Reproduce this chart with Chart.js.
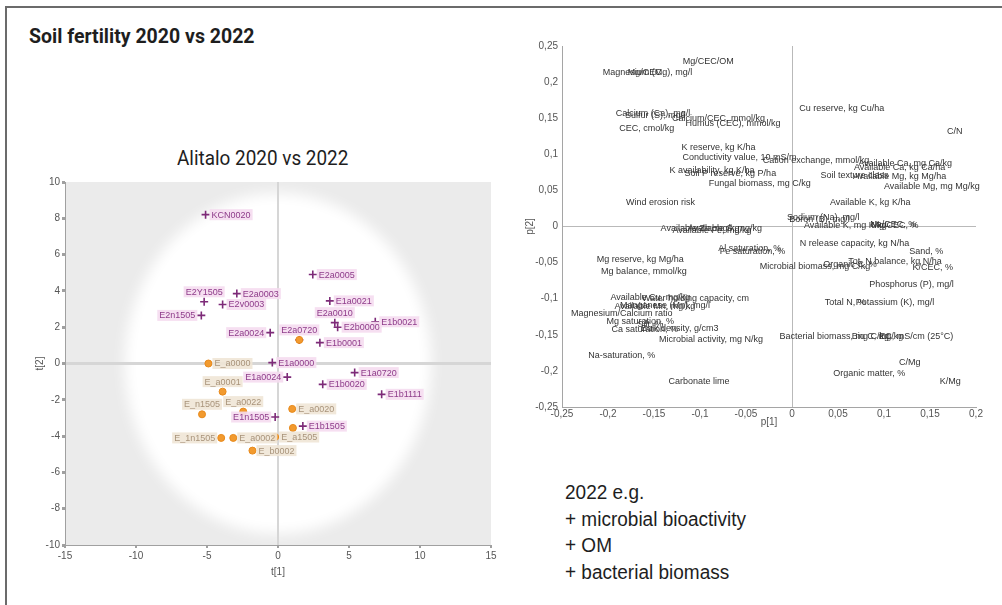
<!DOCTYPE html>
<html>
<head>
<meta charset="utf-8">
<script src="https://cdn.jsdelivr.net/npm/chart.js@4.4.1/dist/chart.umd.min.js"></script>
<style>
  html, body { margin: 0; padding: 0; background: #fff; }
  body { width: 1002px; height: 605px; position: relative; overflow: hidden;
         font-family: "Liberation Sans", Arial, sans-serif; }
  #frame { position: absolute; left: 5px; top: 6px; width: 1010px; height: 640px;
           border-left: 2px solid #6b6b6b; border-top: 2px solid #6b6b6b; }
  #mainTitle { position: absolute; left: 29px; top: 26px; font: bold 20px Roboto, sans-serif;
               line-height: 20px; color: #1e1e1e; white-space: nowrap;
               transform: scaleX(0.975); transform-origin: left top; }
  #scoreTitle { position: absolute; left: 177px; top: 148px; font: 21px Roboto, sans-serif;
                line-height: 21px; color: #1e1e1e; white-space: nowrap;
                transform: scaleX(0.9); transform-origin: left top; }
  #notes { position: absolute; left: 565px; top: 479px; font: 20px "Liberation Sans", Arial, sans-serif;
           line-height: 26.5px; color: #1e1e1e; white-space: nowrap;
           transform: scaleX(0.95); transform-origin: left top; }
  #scoreBox { position: absolute; left: 0; top: 140px; width: 520px; height: 460px; }
  #loadBox { position: absolute; left: 500px; top: 20px; width: 495px; height: 420px; }
</style>
</head>
<body>
<div id="frame"></div>
<div id="mainTitle">Soil fertility 2020 vs 2022</div>
<div id="scoreTitle">Alitalo 2020 vs 2022</div>
<div id="notes">2022 e.g.<br>+ microbial bioactivity<br>+ OM<br>+ bacterial biomass</div>
<div id="scoreBox"><canvas id="scores" width="520" height="460"></canvas></div>
<div id="loadBox"><canvas id="loadings" width="495" height="420"></canvas></div>

<script>
// ---- Score plot: samples from 2022 (purple) ----
const names2022 = ['KCN0020', 'E2Y1505', 'E2a0003', 'E2v0003', 'E2n1505', 'E2a0024', 'E2a0720',
  'E1a0000', 'E2a0005', 'E1a0021', 'E2a0010', 'E2b0000', 'E1b0021', 'E1b0001', 'E1a0024',
  'E1a0720', 'E1b0020', 'E1b1111', 'E1n1505', 'E1b1505'];
const t1_2022 = [-5.1, -5.2, -2.9, -3.9, -5.4, -0.55, 1.5, -0.4, 2.45, 3.65, 4.0, 4.2, 6.85, 2.95, 0.65,
  5.4, 3.15, 7.3, -0.2, 1.75];
const t2_2022 = [8.2, 3.4, 3.85, 3.25, 2.65, 1.7, 1.3, 0.05, 4.9, 3.45, 2.25, 2.0, 2.3, 1.15, -0.75,
  -0.5, -1.15, -1.7, -2.95, -3.45];

// ---- Score plot: samples from 2020 (orange) ----
const names2020 = ['E_a0000', 'E_a0001', 'E_n1505', 'E_a0022', 'E_a0020', '', 'E_1n1505', 'E_a0002',
  'E_a1505', 'E_b0002', ''];
const t1_2020 = [-4.9, -3.9, -5.35, -2.45, 1.0, 1.05, -4.0, -3.15, -0.2, -1.8, 1.5];
const t2_2020 = [0.0, -1.55, -2.8, -2.65, -2.5, -3.55, -4.1, -4.1, -4.05, -4.8, 1.3];

// label side for each sample name: r = right, l = left, a = above
const side2022 = ['r', 'a', 'r', 'r', 'l', 'l', 'a', 'r', 'r', 'r', 'a', 'r', 'r', 'r', 'l', 'r', 'r', 'r', 'l', 'r'];
const side2020 = ['r', 'a', 'a', 'a', 'r', 'r', 'l', 'r', 'r', 'r', 'r'];

// Hotelling T2 ellipse half-axes in score units
const ellipseT1 = 10.8;
const ellipseT2 = 9.4;

// ---- Loading plot ----
const loadingNames = [
  'Mg/CEC/OM', 'Magnesium (Mg), mg/l', 'Mg/CEC', 'Calcium (Ca), mg/l', 'Sulfur (S), mg/l', 'CEC, cmol/kg',
  'Calcium/CEC, mmol/kg', 'Humus (CEC), mmol/kg', 'K reserve, kg K/ha', 'Conductivity value, 10 mS/m',
  'Cation exchange, mmol/kg', 'K availability, kg K/ha', 'Soil P reserve, kg P/ha', 'Fungal biomass, mg C/kg',
  'Wind erosion risk', 'Cu reserve, kg Cu/ha', 'C/N', 'Available Ca, mg Ca/kg', 'Available Ca, kg Ca/ha',
  'Soil texture class', 'Available Mg, kg Mg/ha', 'Available Mg, mg Mg/kg', 'Available K, kg K/ha',
  'Sodium (Na), mg/l', 'Boron (B), mg/l', 'Available K, mg K/kg', 'Mg/CEC, %', 'Na/CEC, %',
  'Available Zn, mg/kg', 'Available Fe, mg/kg', 'Available S, mg/kg', 'Fe saturation, %', 'Al saturation, %',
  'Mg reserve, kg Mg/ha', 'Mg balance, mmol/kg', 'Available Cu, mg/kg', 'Water holding capacity, cm',
  'Available Mn, mg/kg', 'Manganese (Mn), mg/l', 'Magnesium/Calcium ratio', 'Mg saturation, %', 'Silt, %',
  'Bulk density, g/cm3', 'Ca saturation, %', 'Microbial activity, mg N/kg', 'Na-saturation, %',
  'Carbonate lime', 'N release capacity, kg N/ha', 'Sand, %', 'Microbial biomass, mg C/kg', 'Organic C, %',
  'Tot. N balance, kg N/ha', 'K/CEC, %', 'Phosphorus (P), mg/l', 'Total N, %', 'Potassium (K), mg/l',
  'Bacterial biomass, mg C/kg', 'Bio C, mg/kg', 'EC, mS/cm (25°C)', 'C/Mg', 'Organic matter, %', 'K/Mg'];
const p1 = [
  -0.091, -0.157, -0.160, -0.151, -0.149, -0.158,
  -0.080, -0.064, -0.080, -0.057,
  0.026, -0.087, -0.067, -0.035,
  -0.143, 0.054, 0.177, 0.123, 0.117,
  0.068, 0.117, 0.152, 0.085,
  0.034, 0.030, 0.058, 0.112, 0.110,
  -0.100, -0.087, -0.073, -0.043, -0.046,
  -0.165, -0.161, -0.154, -0.105,
  -0.149, -0.138, -0.185, -0.165, -0.154,
  -0.122, -0.160, -0.088, -0.185,
  -0.101, 0.068, 0.146, 0.025, 0.063,
  0.112, 0.153, 0.130, 0.058, 0.112,
  0.046, 0.093, 0.135, 0.128, 0.084, 0.172];
const p2 = [
  0.228, 0.213, 0.213, 0.157, 0.154, 0.136,
  0.149, 0.142, 0.110, 0.095,
  0.092, 0.078, 0.074, 0.059,
  0.033, 0.164, 0.131, 0.087, 0.082,
  0.070, 0.069, 0.055, 0.033,
  0.013, 0.010, 0.001, 0.002, 0.003,
  -0.003, -0.006, -0.003, -0.034, -0.031,
  -0.046, -0.062, -0.099, -0.100,
  -0.111, -0.109, -0.120, -0.132, -0.136,
  -0.141, -0.143, -0.157, -0.178,
  -0.215, -0.023, -0.035, -0.055, -0.053,
  -0.048, -0.057, -0.081, -0.105, -0.105,
  -0.153, -0.153, -0.153, -0.189, -0.203, -0.215];

const FONT = '"Liberation Sans", Arial, sans-serif';
Chart.defaults.font.family = FONT;
Chart.defaults.font.size = 10;
Chart.defaults.color = '#555';

const toPoints = (xs, ys) => xs.map((v, i) => ({ x: v, y: ys[i] }));

// grey plot field with the white confidence ellipse behind everything
const scoreBackdrop = {
  id: 'scoreBackdrop',
  beforeDraw(chart) {
    const { ctx, chartArea: a, scales: { x, y } } = chart;
    ctx.save();
    ctx.fillStyle = '#ebebeb';
    ctx.fillRect(a.left, a.top, a.width, a.height);
    ctx.beginPath();
    ctx.rect(a.left, a.top, a.width, a.height);
    ctx.clip();
    const cx = x.getPixelForValue(0), cy = y.getPixelForValue(0);
    const rx = x.getPixelForValue(ellipseT1) - cx;
    const ry = cy - y.getPixelForValue(ellipseT2);
    ctx.filter = 'blur(7px)';
    ctx.fillStyle = '#ffffff';
    ctx.beginPath();
    ctx.ellipse(cx, cy, rx, ry, 0, 0, Math.PI * 2);
    ctx.fill();
    ctx.restore();
  }
};

// boxed sample names beside each score point
const sampleLabels = {
  id: 'sampleLabels',
  afterDatasetsDraw(chart) {
    const ctx = chart.ctx;
    chart.data.datasets.forEach((ds, di) => {
      if (!ds.sampleNames) return;
      const meta = chart.getDatasetMeta(di);
      ctx.save();
      ctx.font = '9px ' + FONT;
      ctx.textBaseline = 'middle';
      meta.data.forEach((pt, i) => {
        const txt = ds.sampleNames[i];
        if (!txt) return;
        const w = ctx.measureText(txt).width;
        const s = ds.sampleSides[i];
        let x0, yc;
        if (s === 'r') { x0 = pt.x + 6; yc = pt.y; }
        else if (s === 'l') { x0 = pt.x - 6 - w; yc = pt.y; }
        else { x0 = pt.x - w / 2; yc = pt.y - 10; }
        ctx.fillStyle = ds.labelBox;
        ctx.fillRect(x0 - 2, yc - 5.5, w + 4, 11);
        ctx.fillStyle = ds.labelInk;
        ctx.fillText(txt, x0, yc + 0.5);
      });
      ctx.restore();
    });
  }
};

// variable names written at each loading position
const variableLabels = {
  id: 'variableLabels',
  afterDatasetsDraw(chart) {
    const ctx = chart.ctx;
    const ds = chart.data.datasets[0];
    const meta = chart.getDatasetMeta(0);
    ctx.save();
    ctx.font = '9px ' + FONT;
    ctx.textAlign = 'center';
    ctx.textBaseline = 'middle';
    ctx.fillStyle = '#333333';
    meta.data.forEach((pt, i) => ctx.fillText(ds.variableNames[i], pt.x, pt.y));
    ctx.restore();
  }
};

new Chart(document.getElementById('scores'), {
  type: 'scatter',
  data: {
    datasets: [
      {
        data: toPoints(t1_2020, t2_2020),
        sampleNames: names2020, sampleSides: side2020,
        labelBox: 'rgba(240,230,214,0.9)', labelInk: '#a8937a',
        pointStyle: 'circle', pointRadius: 3.5,
        backgroundColor: '#f29a2e', borderColor: '#e88a1c', borderWidth: 1
      },
      {
        data: toPoints(t1_2022, t2_2022),
        sampleNames: names2022, sampleSides: side2022,
        labelBox: 'rgba(245,220,240,0.9)', labelInk: '#8e3c8a',
        pointStyle: 'cross', pointRadius: 4,
        borderColor: '#7d2a78', borderWidth: 1.6
      }
    ]
  },
  options: {
    responsive: false, animation: false, events: [],
    layout: { padding: { left: 0, top: 42, right: 29, bottom: 15 } },
    plugins: { legend: { display: false }, tooltip: { enabled: false } },
    scales: {
      x: {
        type: 'linear', min: -15, max: 15,
        ticks: { stepSize: 5, padding: 2, color: '#555', font: { size: 10 } },
        grid: { color: c => c.tick.value === 0 ? '#d6d6d6' : 'rgba(0,0,0,0)', lineWidth: 2,
                tickColor: '#a0a0a0', tickLength: 3 },
        border: { color: '#a0a0a0' },
        title: { display: true, text: 't[1]', color: '#555', font: { size: 10 }, padding: { top: 0, bottom: 7 } },
        afterFit: s => { s.height = 40; }
      },
      y: {
        type: 'linear', min: -10, max: 10,
        ticks: { stepSize: 2, padding: 2, color: '#555', font: { size: 10 } },
        grid: { color: c => c.tick.value === 0 ? '#d6d6d6' : 'rgba(0,0,0,0)', lineWidth: 3,
                tickColor: '#a0a0a0', tickLength: 3 },
        border: { color: '#a0a0a0' },
        title: { display: true, text: 't[2]', color: '#555', font: { size: 10 }, padding: { top: 34, bottom: 0 } },
        afterFit: s => { s.width = 65; }
      }
    }
  },
  plugins: [scoreBackdrop, sampleLabels]
});

const commaTick = v => String(Math.round(v * 100) / 100).replace('.', ',');

new Chart(document.getElementById('loadings'), {
  type: 'scatter',
  data: {
    datasets: [{
      data: toPoints(p1, p2),
      variableNames: loadingNames,
      pointRadius: 0
    }]
  },
  options: {
    responsive: false, animation: false, events: [],
    layout: { padding: { left: 0, top: 26, right: 19, bottom: 9 } },
    plugins: { legend: { display: false }, tooltip: { enabled: false } },
    scales: {
      x: {
        type: 'linear', min: -0.25, max: 0.2,
        ticks: { stepSize: 0.05, padding: 1, color: '#555', font: { size: 10 }, callback: commaTick },
        grid: { color: c => c.tick.value === 0 ? '#b9b9b9' : 'rgba(0,0,0,0)', drawTicks: false },
        border: { color: '#a5a5a5' },
        title: { display: true, text: 'p[1]', color: '#555', font: { size: 10 }, padding: { top: 0, bottom: 3 } },
        afterFit: s => { s.height = 24; }
      },
      y: {
        type: 'linear', min: -0.25, max: 0.25,
        ticks: { stepSize: 0.05, padding: 4, color: '#555', font: { size: 10 }, callback: commaTick },
        grid: { color: c => c.tick.value === 0 ? '#b9b9b9' : 'rgba(0,0,0,0)', drawTicks: false },
        border: { color: '#a5a5a5' },
        title: { display: true, text: 'p[2]', color: '#555', font: { size: 10 }, padding: { top: 24, bottom: 0 } },
        afterFit: s => { s.width = 62; }
      }
    }
  },
  plugins: [variableLabels]
});
</script>
</body>
</html>
